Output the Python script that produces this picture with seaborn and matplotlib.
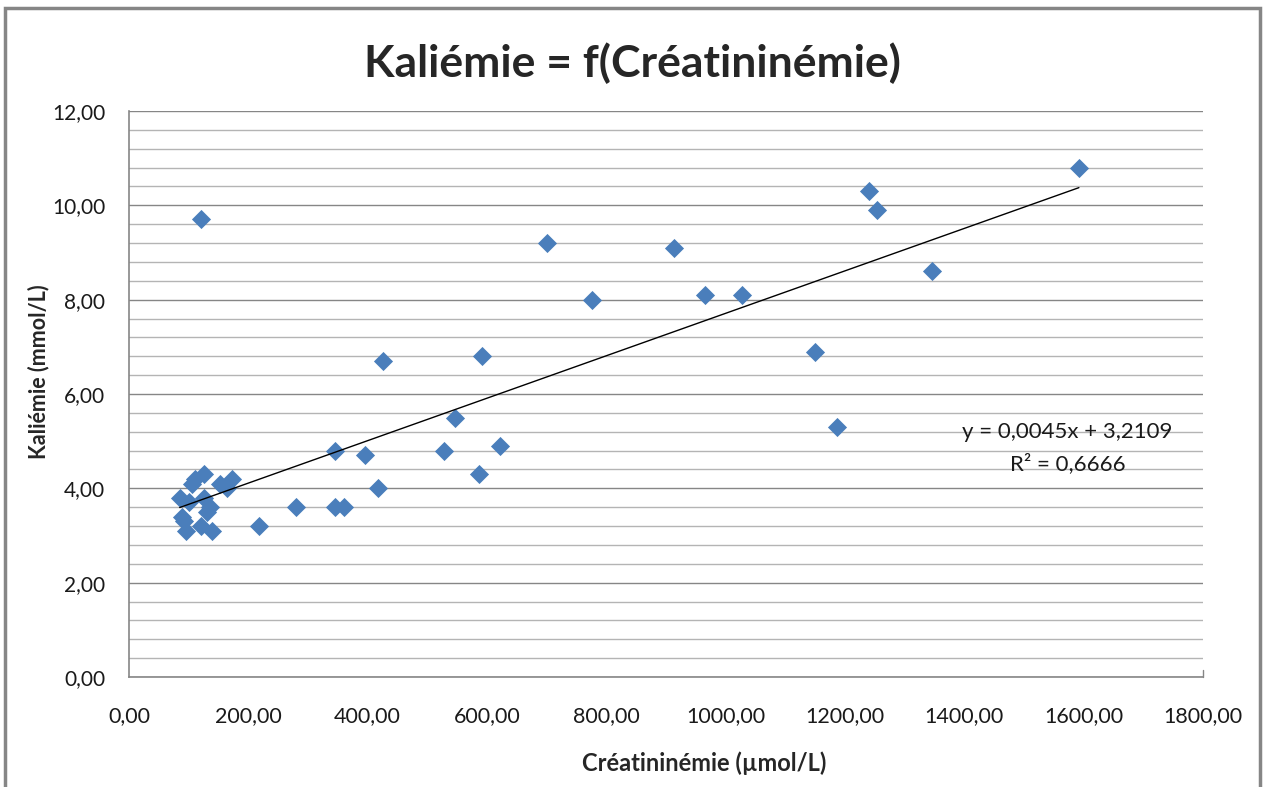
import matplotlib
matplotlib.use("Agg")
import matplotlib.pyplot as plt
import seaborn as sns
import pandas as pd
import numpy as np
from matplotlib.ticker import FixedLocator, MultipleLocator, FuncFormatter
from matplotlib.patches import Rectangle

# ---- data ----
creatinine = [1592, 1240, 1253, 1346, 1150, 1186, 965, 1027, 913, 776, 700,
              592, 546, 622, 528, 586, 426, 395, 417, 345, 345, 361, 280, 218,
              120, 85, 88, 92, 95, 105, 110, 120, 126, 126, 130, 135, 139,
              153, 165, 172, 100]
kaliemie = [10.8, 10.3, 9.9, 8.6, 6.9, 5.3, 8.1, 8.1, 9.1, 8.0, 9.2,
            6.8, 5.5, 4.9, 4.8, 4.3, 6.7, 4.7, 4.0, 4.8, 3.6, 3.6, 3.6, 3.2,
            9.7, 3.8, 3.4, 3.3, 3.1, 4.1, 4.2, 3.2, 4.3, 3.8, 3.5, 3.6, 3.1,
            4.1, 4.0, 4.2, 3.7]
slope = 0.0045
intercept = 3.2109
r2 = 0.6666
x_ticks = [0, 200, 400, 600, 800, 1000, 1200, 1400, 1600, 1800]
y_ticks = [0, 2, 4, 6, 8, 10, 12]

title = "Kaliémie = f(Créatininémie)"
xlabel = "Créatininémie (µmol/L)"
ylabel = "Kaliémie (mmol/L)"

df = pd.DataFrame({"x": creatinine, "y": kaliemie})
xs = [min(creatinine), max(creatinine)]
trend = pd.DataFrame({"x": xs, "y": [slope * v + intercept for v in xs]})

sns.set_theme(style="white")
plt.rcParams["font.family"] = ["Lato", "DejaVu Sans"]

W, H = 1264, 787
fig = plt.figure(figsize=(W / 100, H / 100), dpi=100)
ax = fig.add_axes([129 / W, 1 - 677 / H, (1203 - 129) / W, (677 - 111) / H])

gray = "#868686"
light = "#b4b4b4"

ax.set_xlim(0, 1800)
ax.set_ylim(0, 12)
ax.xaxis.set_major_locator(FixedLocator(x_ticks))
ax.yaxis.set_major_locator(FixedLocator(y_ticks))
ax.yaxis.set_minor_locator(MultipleLocator(0.4))
fmt = FuncFormatter(lambda v, p: f"{v:.2f}".replace(".", ","))
ax.xaxis.set_major_formatter(fmt)
ax.yaxis.set_major_formatter(fmt)

ax.grid(False)
ax.yaxis.grid(True, which="minor", color=light, lw=1.0, zorder=0)
ax.yaxis.grid(True, which="major", color=gray, lw=1.0, zorder=0)
ax.set_axisbelow(True)

for s in ["top", "right"]:
    ax.spines[s].set_visible(False)
for s in ["left", "bottom"]:
    ax.spines[s].set_color(gray)
    ax.spines[s].set_linewidth(1.2)

ax.tick_params(axis="both", which="major", direction="out", length=7,
               width=1, color=gray, labelcolor="#1a1a1a")
ax.tick_params(axis="x", labelsize=15.5, pad=14)
ax.tick_params(axis="y", labelsize=15, pad=10)
ax.tick_params(axis="y", which="minor", length=0)
# right end tick at 1800 drawn upward as in the reference
ax.plot([1800, 1800], [0, 0.15], color=gray, lw=1, clip_on=False)

sns.scatterplot(data=df, x="x", y="y", marker="D", s=95, color="#4a7ebb",
                edgecolor="#4a7ebb", linewidth=0, ax=ax, zorder=3)
sns.lineplot(data=trend, x="x", y="y", color="black", lw=1.0, ax=ax, zorder=4)

ax.set_xlabel(xlabel, fontsize=17, fontweight="bold")
ax.set_ylabel(ylabel, fontsize=15.5, fontweight="bold")
ax.xaxis.set_label_coords(0.536, -0.132)
ax.yaxis.set_label_coords(-0.0745, 0.539)

ax.text(1573, 5.19, f"y = {slope:.4f}x + {intercept:.4f}".replace(".", ","),
        fontsize=16, ha="center", va="center", color="#1a1a1a")
ax.text(1573, 4.52, f"R² = {r2:.4f}".replace(".", ","),
        fontsize=16, ha="center", va="center", color="#1a1a1a")

fig.text(0.5, 1 - 63 / H, title, fontsize=32, fontweight="bold",
         ha="center", va="center")

fig.patches.append(Rectangle((5 / W, -0.1), (1260 - 5) / W, 1.1 - 8 / H,
                             transform=fig.transFigure, fill=False,
                             edgecolor=gray, lw=2.5))

fig.savefig("out.png", dpi=100)
